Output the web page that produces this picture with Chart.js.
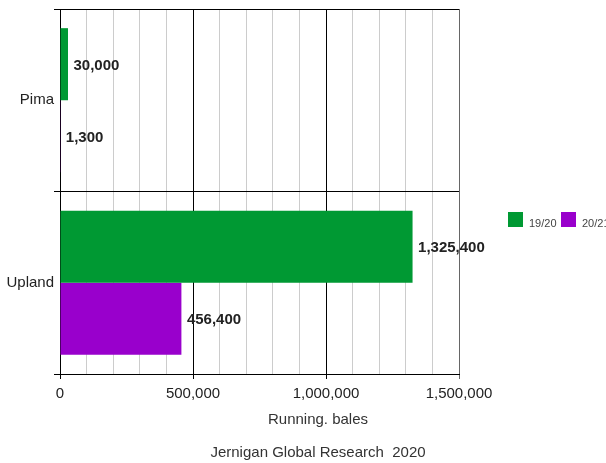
<!DOCTYPE html>
<html>
<head>
<meta charset="utf-8">
<script src="https://cdn.jsdelivr.net/npm/chart.js@4.4.1/dist/chart.umd.min.js"></script>
<style>
  html, body { margin: 0; padding: 0; background: #fff; }
  #wrap { width: 606px; height: 463px; }
</style>
</head>
<body>
<div id="wrap"><canvas id="c" width="606" height="463"></canvas></div>
<script>
const categories = ['Pima', 'Upland'];
const seriesNames = ['19/20', '20/21'];
const values1920 = [30000, 1325400];
const values2021 = [1300, 456400];
const seriesColors = ['#009933', '#9900cc'];
const axisTitle = 'Running. bales';
const caption = 'Jernigan Global Research  2020';
const xMax = 1500000;
const xStep = 100000;
const xLabelStep = 500000;

const FONT = '"Liberation Sans", Arial, sans-serif';

const extrasPlugin = {
  id: 'extras',
  afterDatasetsDraw(chart) {
    const ctx = chart.ctx;
    ctx.save();
    ctx.font = 'bold 15px ' + FONT;
    ctx.fillStyle = '#222';
    ctx.textAlign = 'left';
    ctx.textBaseline = 'middle';
    chart.data.datasets.forEach((ds, i) => {
      const meta = chart.getDatasetMeta(i);
      meta.data.forEach((el, j) => {
        const v = ds.data[j];
        ctx.fillText(v.toLocaleString('en-US'), el.x + 5.5, el.y + 1.5);
      });
    });
    ctx.restore();
  },
  afterDraw(chart) {
    const ctx = chart.ctx;
    ctx.save();
    // axis title & caption
    ctx.fillStyle = '#333';
    ctx.font = '15px ' + FONT;
    ctx.textAlign = 'center';
    ctx.textBaseline = 'middle';
    ctx.fillText(axisTitle, 318, 420);
    ctx.fillText(caption, 318, 453);
    // legend
    ctx.font = '11px ' + FONT;
    ctx.textAlign = 'left';
    let x = 508;
    chart.data.datasets.forEach((ds, i) => {
      ctx.fillStyle = ds.backgroundColor;
      ctx.fillRect(x, 212, 15, 15);
      ctx.fillStyle = '#444';
      ctx.fillText(ds.label, x + 21, 224);
      x += 53;
    });
    ctx.restore();
  }
};

new Chart(document.getElementById('c'), {
  type: 'bar',
  data: {
    labels: categories,
    datasets: [
      { label: seriesNames[0], data: values1920, backgroundColor: seriesColors[0] },
      { label: seriesNames[1], data: values2021, backgroundColor: seriesColors[1] }
    ]
  },
  options: {
    indexAxis: 'y',
    responsive: false,
    animation: false,
    devicePixelRatio: 1,
    categoryPercentage: 0.79,
    barPercentage: 1.0,
    layout: { padding: { left: 0, top: 8, right: 147, bottom: 0 } },
    plugins: {
      legend: { display: false },
      tooltip: { enabled: false }
    },
    scales: {
      x: {
        min: 0,
        max: xMax,
        afterFit(s) { s.height = 89; },
        ticks: {
          stepSize: xStep,
          autoSkip: false,
          maxRotation: 0,
          padding: 6,
          color: '#222',
          font: { size: 15, family: FONT },
          callback(v) { return v % xLabelStep === 0 ? Number(v).toLocaleString('en-US') : ''; }
        },
        grid: {
          drawTicks: true,
          tickLength: 5,
          tickColor(ctx) {
            const v = ctx.tick ? ctx.tick.value : 0;
            if (v === xMax) return '#666';
            return v % xLabelStep === 0 ? '#000' : 'rgba(0,0,0,0)';
          },
          color(ctx) {
            const v = ctx.tick ? ctx.tick.value : 0;
            if (v === xMax) return '#666';
            return v % xLabelStep === 0 ? '#000' : '#cccccc';
          }
        },
        border: { display: true, color: '#000' }
      },
      y: {
        afterFit(s) { s.width = 60; },
        ticks: {
          padding: 0,
          color: '#222',
          font: { size: 15, family: FONT }
        },
        grid: {
          offset: true,
          color: '#000',
          tickLength: 6,
          drawTicks: true
        },
        border: { display: true, color: '#000' }
      }
    }
  },
  plugins: [extrasPlugin]
});
</script>
</body>
</html>
